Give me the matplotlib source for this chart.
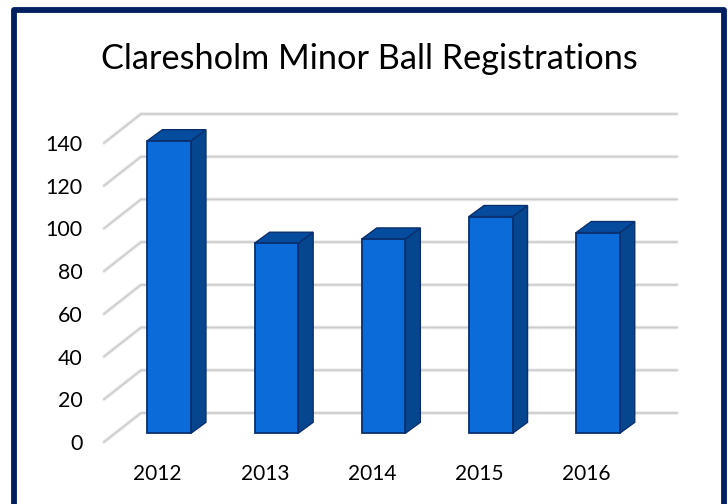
import matplotlib
matplotlib.use('Agg')
import matplotlib.pyplot as plt
from matplotlib.patches import Polygon
from matplotlib.lines import Line2D

years = ['2012', '2013', '2014', '2015', '2016']
registrations = [137, 89, 91, 101.5, 94]
y_ticks = [0, 20, 40, 60, 80, 100, 120, 140]

plt.rcParams['font.family'] = ['Lato', 'DejaVu Sans']

W, H = 728, 504
fig = plt.figure(figsize=(W / 100, H / 100), dpi=100, facecolor='white')

# navy frame, runs off the bottom of the picture
fig.add_artist(Line2D([13.5 / W, 13.5 / W, 724 / W, 724 / W], [-0.02, 1 - 9.5 / H, 1 - 9.5 / H, -0.02],
                      color='#002060', lw=4.2, solid_joinstyle='round'))

fig.text(369 / W, 1 - 59 / H, 'Claresholm Minor Ball Registrations', ha='center', va='center',
         fontsize=24.7, color='black')

# front plane of the 3d box: value 0 at y=442 px, value 140 at y=143 px
ax = fig.add_axes([104 / W, 1 - 442 / H, 536 / W, 299 / H])
ax.set_xlim(-0.5, 4.5)
ax.set_ylim(0, 140)
ax.patch.set_visible(False)
for s in ax.spines.values():
    s.set_visible(False)

# depth offsets in data units
grid_dx, grid_dy = 0.345, 13.6
bar_off_x, bar_off_y = 0.108, 4.08
side_dx, side_dy = 0.14, 5.15
bar_w = 0.406

for v in y_ticks:
    xs = [-0.5, -0.5 + grid_dx, 4.5 + grid_dx]
    ys = [v, v + grid_dy, v + grid_dy]
    ax.plot(xs, ys, color='#ededed', lw=2.8, clip_on=False, zorder=1, solid_capstyle='round')
    ax.plot(xs, ys, color='#cccccc', lw=1.2, clip_on=False, zorder=2, solid_capstyle='round')

edge = '#0a2f6e'
for i, val in enumerate(registrations):
    left = i + bar_off_x - bar_w / 2
    right = left + bar_w
    base = bar_off_y
    top = val + bar_off_y
    ax.add_patch(Polygon([(right, base), (right + side_dx, base + side_dy), (right + side_dx, top + side_dy), (right, top)],
                         facecolor='#05468f', edgecolor=edge, lw=1.0, clip_on=False, zorder=3))
    ax.add_patch(Polygon([(left, top), (left + side_dx, top + side_dy), (right + side_dx, top + side_dy), (right, top)],
                         facecolor='#054c9e', edgecolor=edge, lw=1.0, clip_on=False, zorder=3))
    ax.bar(i + bar_off_x, val, bottom=base, width=bar_w, color='#0b6bd8', edgecolor=edge, lw=1.3,
           clip_on=False, zorder=4)

ax.set_xticks(range(len(years)))
ax.set_xticklabels(years)
ax.set_yticks(y_ticks)
ax.tick_params(axis='x', length=0, pad=15.5, labelsize=15, colors='black')
ax.tick_params(axis='y', length=0, pad=15.5, labelsize=15.4, colors='black')

fig.savefig('out.png', dpi=100, facecolor='white')
